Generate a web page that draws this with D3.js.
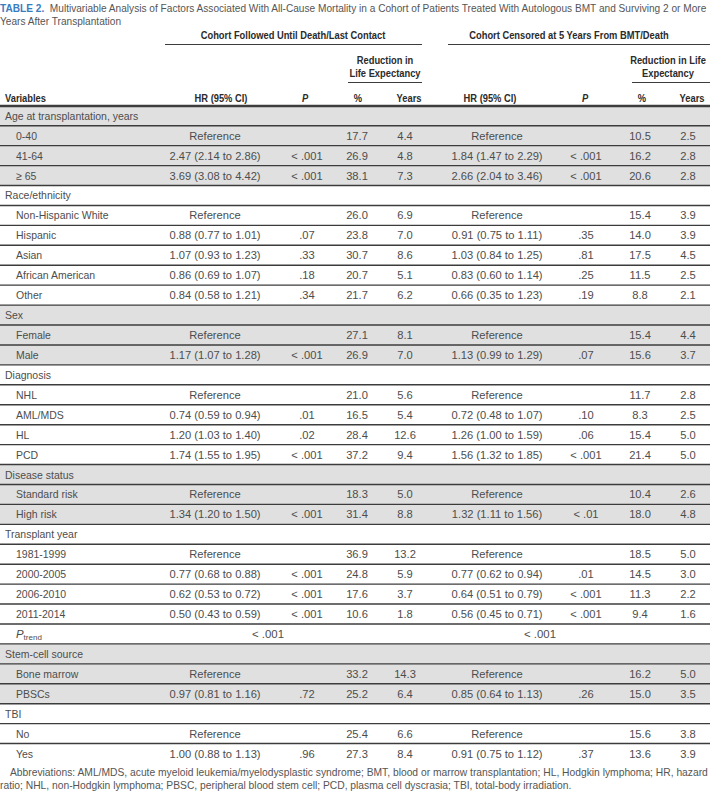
<!DOCTYPE html>
<html>
<head>
<meta charset="utf-8">
<script src="https://cdn.jsdelivr.net/npm/d3@7"></script>
<style>
  body { margin: 0; background: #fff; }
  svg { display: block; }
</style>
</head>
<body>
<svg id="tbl"></svg>
<script>
const W = 710, H = 798;

// row labels, and which rows are group headers
const labels = ["Age at transplantation, years","0-40","41-64","\u2265 65",
  "Race/ethnicity","Non-Hispanic White","Hispanic","Asian","African American","Other",
  "Sex","Female","Male",
  "Diagnosis","NHL","AML/MDS","HL","PCD",
  "Disease status","Standard risk","High risk",
  "Transplant year","1981-1999","2000-2005","2006-2010","2011-2014","Ptrend",
  "Stem-cell source","Bone marrow","PBSCs",
  "TBI","No","Yes"];
const groupIdx = [0, 4, 10, 13, 18, 21, 27, 30];
const shadedGroups = [0, 10, 18, 27];

// cohort followed until death/last contact
const hr1 = ["","Reference","2.47 (2.14 to 2.86)","3.69 (3.08 to 4.42)",
  "","Reference","0.88 (0.77 to 1.01)","1.07 (0.93 to 1.23)","0.86 (0.69 to 1.07)","0.84 (0.58 to 1.21)",
  "","Reference","1.17 (1.07 to 1.28)",
  "","Reference","0.74 (0.59 to 0.94)","1.20 (1.03 to 1.40)","1.74 (1.55 to 1.95)",
  "","Reference","1.34 (1.20 to 1.50)",
  "","Reference","0.77 (0.68 to 0.88)","0.62 (0.53 to 0.72)","0.50 (0.43 to 0.59)","",
  "","Reference","0.97 (0.81 to 1.16)",
  "","Reference","1.00 (0.88 to 1.13)"];
const p1 = ["","","< .001","< .001",
  "","",".07",".33",".18",".34",
  "","","< .001",
  "","",".01",".02","< .001",
  "","","< .001",
  "","","< .001","< .001","< .001","",
  "","",".72",
  "","",".96"];
const pct1 = [null,17.7,26.9,38.1, null,26.0,23.8,30.7,20.7,21.7, null,27.1,26.9,
  null,21.0,16.5,28.4,37.2, null,18.3,31.4, null,36.9,24.8,17.6,10.6,null,
  null,33.2,25.2, null,25.4,27.3];
const yrs1 = [null,4.4,4.8,7.3, null,6.9,7.0,8.6,5.1,6.2, null,8.1,7.0,
  null,5.6,5.4,12.6,9.4, null,5.0,8.8, null,13.2,5.9,3.7,1.8,null,
  null,14.3,6.4, null,6.6,8.4];
const trend1 = "< .001";

// cohort censored at 5 years from BMT/death
const hr2 = ["","Reference","1.84 (1.47 to 2.29)","2.66 (2.04 to 3.46)",
  "","Reference","0.91 (0.75 to 1.11)","1.03 (0.84 to 1.25)","0.83 (0.60 to 1.14)","0.66 (0.35 to 1.23)",
  "","Reference","1.13 (0.99 to 1.29)",
  "","Reference","0.72 (0.48 to 1.07)","1.26 (1.00 to 1.59)","1.56 (1.32 to 1.85)",
  "","Reference","1.32 (1.11 to 1.56)",
  "","Reference","0.77 (0.62 to 0.94)","0.64 (0.51 to 0.79)","0.56 (0.45 to 0.71)","",
  "","Reference","0.85 (0.64 to 1.13)",
  "","Reference","0.91 (0.75 to 1.12)"];
const p2 = ["","","< .001","< .001",
  "","",".35",".81",".25",".19",
  "","",".07",
  "","",".10",".06","< .001",
  "","","< .01",
  "","",".01","< .001","< .001","",
  "","",".26",
  "","",".37"];
const pct2 = [null,10.5,16.2,20.6, null,15.4,14.0,17.5,11.5,8.8, null,15.4,15.6,
  null,11.7,8.3,15.4,21.4, null,10.4,18.0, null,18.5,14.5,11.3,9.4,null,
  null,16.2,15.0, null,15.6,13.6];
const yrs2 = [null,2.5,2.8,2.8, null,3.9,3.9,4.5,2.5,2.1, null,4.4,3.7,
  null,2.8,2.5,5.0,5.0, null,2.6,4.8, null,5.0,3.0,2.2,1.6,null,
  null,5.0,3.5, null,3.8,3.9];
const trend2 = "< .001";

const titleLines = ["Multivariable Analysis of Factors Associated With All-Cause Mortality in a Cohort of Patients Treated With Autologous BMT and Surviving 2 or More",
  "Years After Transplantation"];
const footLines = ["Abbreviations: AML/MDS, acute myeloid leukemia/myelodysplastic syndrome; BMT, blood or marrow transplantation; HL, Hodgkin lymphoma; HR, hazard",
  "ratio; NHL, non-Hodgkin lymphoma; PBSC, peripheral blood stem cell; PCD, plasma cell dyscrasia; TBI, total-body irradiation."];

const FONT = "'Liberation Sans', Arial, sans-serif";
const TXT = "#4d4d4d", HEAD = "#2b2b2b", RULE = "#3c3c3c";

const svg = d3.select("#tbl").attr("width", W).attr("height", H);

// squeeze a text horizontally (scale transform around its anchor point)
function squeeze(sel, k) {
  sel.each(function () {
    const el = d3.select(this);
    const x0 = +el.attr("x") || 0, y0 = +el.attr("y") || 0;
    el.attr("x", 0).attr("y", 0)
      .attr("transform", `translate(${x0},${y0}) scale(${k},1)`);
  });
}

// title
const tg = svg.append("g");
const t = tg.append("text").attr("x", 0).attr("y", 12)
  .style("font-family", FONT).style("font-size", "10.6px");
t.append("tspan").attr("fill", "#3a7cc0").style("font-weight", "bold").text("TABLE 2.");
t.append("tspan").attr("fill", "#555").text("\u00a0 " + titleLines[0]);
tg.append("text").attr("x", 0).attr("y", 25).attr("fill", "#555")
  .style("font-family", FONT).style("font-size", "10.6px")
  .text(titleLines[1]);
const tk = 706 / t.node().getComputedTextLength();
tg.attr("transform", `scale(${tk},1)`);

// rows
const y = d3.scaleBand().domain(d3.range(labels.length)).range([105.8, 105.8 + 19.93 * labels.length]);
const cols = ["hr1","p1","pct1","yrs1","hr2","p2","pct2","yrs2"];
const x = d3.scaleOrdinal().domain(cols).range([215, 307, 357, 405, 497, 586, 640, 688]);

const groupOf = i => d3.max(groupIdx.filter(g => g <= i));
const fmt = d3.format(".1f");

svg.append("g").selectAll("rect").data(labels).join("rect")
  .attr("x", 0).attr("width", W)
  .attr("y", (d, i) => y(i)).attr("height", y.bandwidth())
  .attr("fill", (d, i) => shadedGroups.includes(groupOf(i)) ? "#e0e0e0" : "#fff");

svg.append("g").selectAll("line").data(d3.range(1, labels.length)).join("line")
  .attr("x1", 0).attr("x2", W)
  .attr("y1", i => y(i)).attr("y2", i => y(i))
  .attr("stroke", RULE).attr("stroke-width", 1.4);

const rows = svg.append("g").selectAll("g").data(labels).join("g")
  .attr("transform", (d, i) => `translate(0,${y(i) + y.bandwidth() / 2 + 4})`)
  .style("font-family", FONT).style("font-size", "11.4px").attr("fill", TXT);

rows.each(function (d, i) {
  const g = d3.select(this);
  if (d === "Ptrend") {
    const lt = g.append("text").attr("x", 16);
    lt.append("tspan").style("font-style", "italic").text("P");
    lt.append("tspan").attr("dy", 2.5).style("font-size", "8px").text("trend");
    g.append("text").attr("x", 268).attr("text-anchor", "middle").text(trend1);
    g.append("text").attr("x", 540).attr("text-anchor", "middle").text(trend2);
    return;
  }
  const isGroup = groupIdx.includes(i);
  g.append("text").attr("class", "lbl").attr("x", isGroup ? 5 : 16).text(d);
  if (isGroup) return;
  const vals = {hr1: hr1[i], p1: p1[i], pct1: fmt(pct1[i]), yrs1: fmt(yrs1[i]),
    hr2: hr2[i], p2: p2[i], pct2: fmt(pct2[i]), yrs2: fmt(yrs2[i])};
  cols.forEach(c => {
    if (vals[c]) g.append("text").attr("class", "val").attr("x", x(c)).attr("text-anchor", "middle").text(vals[c]);
  });
});
squeeze(svg.selectAll("text.lbl"), 0.92);
squeeze(svg.selectAll("text.val"), 0.98);

// header
const hd = svg.append("g").style("font-family", FONT).style("font-size", "11.4px")
  .style("font-weight", "bold").attr("fill", HEAD);
const htext = (xx, yy, s, anchor = "middle") =>
  hd.append("text").attr("x", xx).attr("y", yy).attr("text-anchor", anchor).text(s);
const hline = (x1, x2, yy, w = 1.2) =>
  svg.append("line").attr("x1", x1).attr("x2", x2).attr("y1", yy).attr("y2", yy)
    .attr("stroke", RULE).attr("stroke-width", w);

htext(293, 39, "Cohort Followed Until Death/Last Contact");
htext(569, 39, "Cohort Censored at 5 Years From BMT/Death");
hline(165, 422, 44.5);
hline(448, W, 44.5);
htext(385, 64, "Reduction in");
htext(385, 77, "Life Expectancy");
htext(668, 64, "Reduction in Life");
htext(668, 77, "Expectancy");
hline(348, 422, 82.5);
hline(632, W, 82.5);
htext(5, 102, "Variables", "start");
htext(221, 102, "HR (95% CI)");
htext(305, 102, "P").style("font-style", "italic");
htext(358, 102, "%");
htext(409, 102, "Years");
htext(490, 102, "HR (95% CI)");
htext(585, 102, "P").style("font-style", "italic");
htext(642, 102, "%");
htext(692, 102, "Years");
hline(0, W, 106, 2.4);
squeeze(hd.selectAll("text"), 0.82);

// footnote
const ft = svg.append("g").style("font-family", FONT).style("font-size", "10.2px").attr("fill", "#555");
const f1 = ft.append("text").attr("x", 10).attr("y", 776).text(footLines[0]);
const f2 = ft.append("text").attr("x", 0).attr("y", 789).text(footLines[1]);
const fk = 698 / f1.node().getComputedTextLength();
squeeze(f1, fk);
squeeze(f2, fk);
</script>
</body>
</html>
